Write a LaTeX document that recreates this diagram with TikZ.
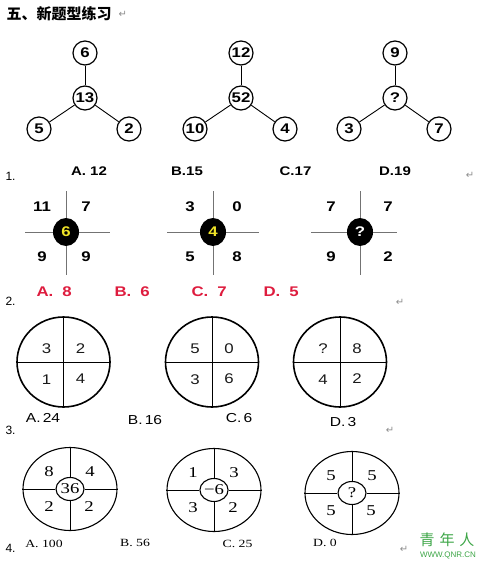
\documentclass[tikz,border=0pt]{standalone}
\usepackage{fontspec}
\setmainfont{Liberation Serif}
\setsansfont{Liberation Sans}
\newfontfamily\cjk{Noto Sans CJK SC}
\newfontfamily\symb{DejaVu Sans}
\newfontfamily\widesans[FakeStretch=1.2]{Liberation Sans}
\newfontfamily\wideserif[FakeStretch=1.25]{Liberation Serif}
\usepackage{tikz}
\usetikzlibrary{shapes.geometric,positioning}

\definecolor{ansred}{RGB}{222,28,62}
\definecolor{digyellow}{RGB}{240,228,40}
\definecolor{markgreen}{RGB}{60,165,70}

\begin{document}
\begin{tikzpicture}[x=1pt, y=-1pt,
  ball/.style={circle, draw, line width=1.2pt, fill=white, minimum size=24pt,
               inner sep=0pt, font=\fontsize{14}{14}\selectfont\widesans\bfseries},
  stick/.style={line width=0.9pt},
  hub/.style={ellipse, fill=black, minimum width=26pt, minimum height=28pt,
              inner sep=0pt, font=\fontsize{14}{14}\selectfont\widesans\bfseries},
  arm/.style={draw=black!55, line width=1pt},
  num/.style={font=\fontsize{14}{14}\selectfont\widesans\bfseries},
  opt/.style={font=\fontsize{12.5}{13}\selectfont\widesans\bfseries},
  pick/.style={anchor=west, text=ansred, font=\fontsize{14}{14}\selectfont\widesans\bfseries},
  dial/.style={ellipse, draw, line width=1.6pt, minimum width=93pt,
               minimum height=90pt, inner sep=0pt},
  split/.style={line width=0.9pt},
  digit/.style={font=\fontsize{14}{14}\selectfont\widesans, text=black!90},
  plain/.style={font=\fontsize{13}{13}\selectfont\widesans},
  face/.style={ellipse, draw, line width=1.1pt, minimum width=94pt,
               minimum height=83pt, inner sep=0pt},
  core/.style={ellipse, draw, line width=1.1pt, fill=white, minimum width=28pt,
               minimum height=23pt, inner sep=0pt, font=\fontsize{15}{15}\selectfont\wideserif},
  serif/.style={font=\fontsize{15}{15}\selectfont\wideserif},
  small/.style={font=\fontsize{11}{11}\selectfont\wideserif},
  tag/.style={anchor=west, font=\fontsize{12}{12}\selectfont\sffamily},
  ret/.style={text=black!45, font=\fontsize{10}{10}\selectfont\symb}
]
\useasboundingbox (0,0) rectangle (482,561);

% Title
\node[anchor=west, font=\fontsize{15}{15}\selectfont\cjk\bfseries] (title) at (3,14) {五、新题型练习};
\node[ret, right=0pt of title] (rett) {↵};

% Question 1: trees
\foreach \i/\x/\t/\m/\l/\r in {1/85/6/13/5/2, 2/241/12/52/10/4, 3/395/9/?/3/7} {
  \node[ball] (top\i) at (\x,53) {\t};
  \node[ball] (mid\i) at (\x,98) {\m};
  \node[ball] (lft\i) at (\x-46,129) {\l};
  \node[ball] (rgt\i) at (\x+44,129) {\r};
  \draw[stick] (top\i) -- (mid\i);
  \draw[stick] (mid\i) -- (lft\i);
  \draw[stick] (mid\i) -- (rgt\i);
}
\node[opt] (a1) at (89,171) {A. 12};
\node[opt] (b1) at (187,171) {B.15};
\node[opt] (c1) at (295.5,171) {C.17};
\node[opt] (d1) at (395,171) {D.19};
\node[tag] (q1) at (2,176) {1.};
\node[ret] (r1) at (470,175) {↵};

% Question 2: crosses
\foreach \i/\x/\w/\e/\l/\r/\m/\tc/\ul/\ur/\dl/\dr in {
    1/66/25/110/42/86/6/digyellow/11/7/9/9,
    2/213/167/259/190/237/4/digyellow/3/0/5/8,
    3/360/311/397/331/388/?/white/7/7/9/2} {
  \node[hub, text=\tc] (hub\i) at (\x,232) {\m};
  \coordinate (hw\i) at (\w,232);
  \coordinate (he\i) at (\e,232);
  \coordinate (hn\i) at (\x,191);
  \coordinate (hs\i) at (\x,275);
  \draw[arm] (hub\i) -- (hw\i);
  \draw[arm] (hub\i) -- (he\i);
  \draw[arm] (hub\i) -- (hn\i);
  \draw[arm] (hub\i) -- (hs\i);
  \node[num] (ul\i) at (\l,207) {\ul};
  \node[num] (ur\i) at (\r,207) {\ur};
  \node[num] (dl\i) at (\l,257) {\dl};
  \node[num] (dr\i) at (\r,257) {\dr};
}
\node[pick] (a2) at (33,292) {A.\hspace{9pt}8};
\node[pick] (b2) at (111,292) {B.\hspace{9pt}6};
\node[pick] (c2) at (188,292) {C.\hspace{9pt}7};
\node[pick] (d2) at (260,292) {D.\hspace{9pt}5};
\node[tag] (q2) at (2,301) {2.};
\node[ret] (r2) at (400,302) {↵};

% Question 3: split ellipses
\foreach \i/\x/\a/\b/\c/\d in {1/63.5/3/2/1/4, 2/212/5/0/3/6, 3/340/?/8/4/2} {
  \node[dial] (dial\i) at (\x,362) {};
  \draw[split] (dial\i.north) -- (dial\i.south);
  \draw[split] (dial\i.west) -- (dial\i.east);
  \node[digit] (na\i) at (\x-17,349) {\a};
  \node[digit] (nb\i) at (\x+17,349) {\b};
  \node[digit] (nc\i) at (\x-17,380) {\c};
  \node[digit] (nd\i) at (\x+17,379) {\d};
}
\node[plain] (a3) at (43,418) {A.\,24};
\node[plain] (b3) at (145,420) {B.\,16};
\node[plain] (c3) at (239,418) {C.\,6};
\node[plain] (d3) at (343,422) {D.\,3};
\node[tag] (q3) at (2,430) {3.};
\node[ret] (r3) at (390,430) {↵};

% Question 4: ellipses with a core
\foreach \i/\x/\y/\a/\b/\m/\c/\d in {1/70/489/8/4/36/2/2, 2/214/490/1/3/−6/3/2, 3/352/493/5/5/?/5/5} {
  \node[face] (face\i) at (\x,\y) {};
  \node[core] (core\i) at (\x,\y) {\m};
  \draw[split] (face\i.north) -- (core\i.north);
  \draw[split] (core\i.south) -- (face\i.south);
  \draw[split] (face\i.west) -- (core\i.west);
  \draw[split] (core\i.east) -- (face\i.east);
  \node[serif] (sa\i) at (\x-21,\y-17) {\a};
  \node[serif] (sb\i) at (\x+20,\y-17) {\b};
  \node[serif] (sc\i) at (\x-21,\y+18) {\c};
  \node[serif] (sd\i) at (\x+19,\y+18) {\d};
}
\node[small] (a4) at (44,544) {A. 100};
\node[small] (b4) at (135,543) {B. 56};
\node[small] (c4) at (237.5,544) {C. 25};
\node[small] (d4) at (325,543) {D. 0};
\node[tag] (q4) at (2,548) {4.};
\node[ret] (r4) at (404,549) {↵};

% watermark
\node[text=markgreen, font=\fontsize{15}{15}\selectfont\cjk] (mark) at (447,540) {青\hspace{5pt}年\hspace{5pt}人};
\node[text=markgreen, font=\fontsize{8}{8}\selectfont\sffamily] (site) at (448,555) {WWW.QNR.CN};
\end{tikzpicture}
\end{document}
